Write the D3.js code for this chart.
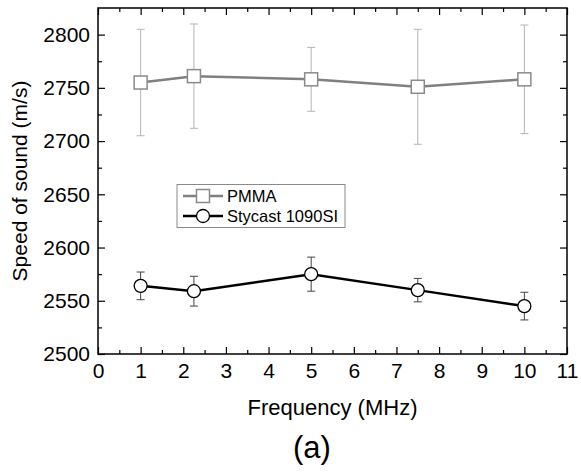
<!doctype html>
<html>
<head>
<meta charset="utf-8"/>
<title>Speed of sound</title>
<script src="https://d3js.org/d3.v7.min.js"></script>
<style>
body{margin:0;background:#fff;}
text{font-family:"Liberation Sans",Arial,sans-serif;}
</style>
</head>
<body>
<script type="text/javascript">
// data
var freq = [1, 2.25, 5, 7.5, 10];
var pmma = [2755, 2761, 2758, 2751, 2758];
var pmmaErr = [50, 49, 30, 54, 51];
var stycast = [2564, 2559, 2575, 2560, 2545];
var stycastErr = [13, 14, 16, 11, 13];
var xTicks = [0, 1, 2, 3, 4, 5, 6, 7, 8, 9, 10, 11];
var yTicks = [2500, 2550, 2600, 2650, 2700, 2750, 2800];

var W = 581, H = 475;
var L = 98, R = 567, T = 8, B = 354;

var svg = d3.select("body").append("svg")
    .attr("width", W).attr("height", H);

var x = d3.scaleLinear().domain([0, 11]).range([L, R]);
var y = d3.scaleLinear().domain([2500, 2825]).range([B, T]);

// minor ticks
var xMinor = d3.range(0.5, 11, 1);
var yMinor = d3.range(2525, 2825, 50);

function ticks(g, axis, vals, len, labels) {
  var a = axis.tickValues(vals).tickSizeInner(-len).tickSizeOuter(0)
    .tickFormat(labels ? d3.format("d") : "");
  g.call(a);
  g.select(".domain").remove();
  g.selectAll("line").attr("stroke", "#000").attr("stroke-width", 1.2);
  g.selectAll("text").attr("font-size", 21).attr("fill", "#000")
    .style("font-family", "Liberation Sans, Arial, sans-serif");
  return g;
}

var xb = ticks(svg.append("g").attr("transform", "translate(0," + B + ")"), d3.axisBottom(x), xTicks, 7, true);
xb.selectAll("text").attr("y", 9);
ticks(svg.append("g").attr("transform", "translate(0," + B + ")"), d3.axisBottom(x), xMinor, 4, false);
ticks(svg.append("g").attr("transform", "translate(0," + T + ")"), d3.axisTop(x), xTicks, 7, false);
ticks(svg.append("g").attr("transform", "translate(0," + T + ")"), d3.axisTop(x), xMinor, 4, false);
var yl = ticks(svg.append("g").attr("transform", "translate(" + L + ",0)"), d3.axisLeft(y), yTicks, 7, true);
yl.selectAll("text").attr("x", -8);
ticks(svg.append("g").attr("transform", "translate(" + L + ",0)"), d3.axisLeft(y), yMinor, 4, false);
ticks(svg.append("g").attr("transform", "translate(" + R + ",0)"), d3.axisRight(y), yTicks, 7, false);
ticks(svg.append("g").attr("transform", "translate(" + R + ",0)"), d3.axisRight(y), yMinor, 4, false);

// frame
svg.append("rect").attr("x", L).attr("y", T).attr("width", R - L).attr("height", B - T)
  .attr("fill", "none").attr("stroke", "#000").attr("stroke-width", 1.5);

function series(vals, errs, lineCol, errCol, marker) {
  var g = svg.append("g");
  // error bars
  freq.forEach(function(f, i) {
    var cx = x(f);
    g.append("line").attr("x1", cx).attr("x2", cx)
      .attr("y1", y(vals[i] - errs[i])).attr("y2", y(vals[i] + errs[i]))
      .attr("stroke", errCol).attr("stroke-width", 1);
    [vals[i] - errs[i], vals[i] + errs[i]].forEach(function(v) {
      g.append("line").attr("x1", cx - 4).attr("x2", cx + 4)
        .attr("y1", y(v)).attr("y2", y(v))
        .attr("stroke", errCol).attr("stroke-width", 1);
    });
  });
  var line = d3.line().x(function(d, i){ return x(freq[i]); }).y(function(d){ return y(d); });
  g.append("path").datum(vals).attr("d", line)
    .attr("fill", "none").attr("stroke", lineCol).attr("stroke-width", 2.5);
  freq.forEach(function(f, i) {
    marker(g, x(f), y(vals[i]));
  });
}

function square(g, cx, cy) {
  g.append("rect").attr("x", cx - 6.5).attr("y", cy - 6.5).attr("width", 13).attr("height", 13)
    .attr("fill", "#fff").attr("stroke", "#8a8a8a").attr("stroke-width", 1.5);
}
function circle(g, cx, cy) {
  g.append("circle").attr("cx", cx).attr("cy", cy).attr("r", 6.5)
    .attr("fill", "#fff").attr("stroke", "#000").attr("stroke-width", 1.3);
}

series(pmma, pmmaErr, "#808080", "#b4b4b4", square);
series(stycast, stycastErr, "#000", "#444", circle);

// legend
var lg = svg.append("g");
lg.append("rect").attr("x", 177).attr("y", 184.5).attr("width", 168).attr("height", 43)
  .attr("fill", "#fff").attr("stroke", "#8a8a8a").attr("stroke-width", 1);
lg.append("line").attr("x1", 183).attr("x2", 223).attr("y1", 196).attr("y2", 196)
  .attr("stroke", "#808080").attr("stroke-width", 2.5);
square(lg, 203, 196);
lg.append("line").attr("x1", 183).attr("x2", 223).attr("y1", 216).attr("y2", 216)
  .attr("stroke", "#000").attr("stroke-width", 2.5);
circle(lg, 203, 216);
lg.append("text").attr("x", 227).attr("y", 202).attr("font-size", 16.5).text("PMMA");
lg.append("text").attr("x", 227).attr("y", 222).attr("font-size", 16.5).text("Stycast 1090SI");

// axis titles
svg.append("text").attr("x", (L + R) / 2).attr("y", 415).attr("text-anchor", "middle")
  .attr("font-size", 22).text("Frequency (MHz)");
svg.append("text").attr("transform", "translate(27," + ((T + B) / 2) + ") rotate(-90)")
  .attr("text-anchor", "middle").attr("font-size", 21).text("Speed of sound (m/s)");
svg.append("text").attr("x", 312).attr("y", 458).attr("text-anchor", "middle")
  .attr("font-size", 31).text("(a)");
</script>
</body>
</html>
